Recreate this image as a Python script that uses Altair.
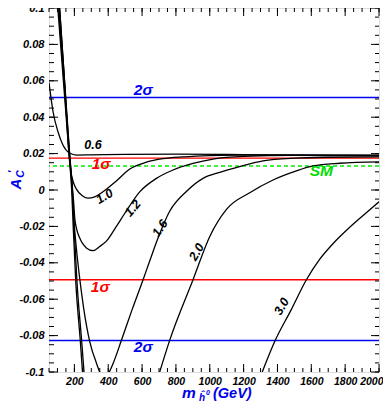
import altair as alt
import pandas as pd

# ---------------- data ----------------
# curve 0.6
m06 = [50, 74, 103, 133, 172, 212, 300, 500, 800, 1100, 1500, 2000]
a06 = [0.059, 0.043, 0.032, 0.0246, 0.0203, 0.0192, 0.0193, 0.0196, 0.0197, 0.0195, 0.0190, 0.0188]
# curve 1.0
m10 = [113, 143, 168, 178, 195, 212, 245, 280, 320, 369, 448, 527, 626, 724, 842, 1000, 1300, 2000]
a10 = [0.1, 0.058, 0.02, 0.011, 0.004, 0.0005, -0.003, -0.0045, -0.0038, -0.001, 0.005, 0.0115,
       0.0153, 0.0172, 0.0182, 0.0189, 0.0193, 0.0192]
# curve 1.2
m12 = [110, 142, 171, 185, 195, 202, 215, 231, 271, 310, 350, 389, 448, 500, 586, 685, 783, 901,
       1019, 1200, 1500, 2000]
a12 = [0.1, 0.058, 0.02, 0.005, -0.006, -0.0153, -0.022, -0.0263, -0.0318, -0.0333, -0.031, -0.0281,
       -0.020, -0.0125, -0.001, 0.0064, 0.011, 0.0146, 0.017, 0.0185, 0.0191, 0.019]
# curve 1.6
m16 = [107, 140, 170, 187, 200, 215, 232, 255, 290, 330, 370, 400, 430, 478, 540, 607, 645, 700,
       763, 862, 960, 1059, 1177, 1315, 1500, 1700, 2000]
a16 = [0.1, 0.058, 0.02, 0.0, -0.02, -0.035, -0.049, -0.065, -0.083, -0.095, -0.103, -0.101, -0.095,
       -0.0826, -0.066, -0.049, -0.039, -0.025, -0.0117, -0.0008, 0.0064, 0.0097, 0.0128, 0.016,
       0.0175, 0.018, 0.0182]
# curve 2.0 (two visible pieces)
m20a = [112, 142, 172, 188, 198, 215, 243, 257]
a20a = [0.1, 0.06, 0.02, 0.0, -0.02, -0.05, -0.083, -0.1]
m20b = [704, 763, 901, 1000, 1100, 1236, 1374, 1512, 1610, 1768, 2000]
a20b = [-0.1, -0.0826, -0.0493, -0.0255, -0.0105, -0.0015, 0.0055, 0.0105, 0.0132, 0.0147, 0.0155]
# curve 3.0 (two visible pieces)
m30a = [102, 135, 168, 184, 193, 208, 235, 248]
a30a = [0.1, 0.06, 0.02, 0.0, -0.02, -0.05, -0.083, -0.1]
m30b = [1310, 1387, 1480, 1571, 1650, 1728, 1827, 1925, 2000]
a30b = [-0.1, -0.0826, -0.066, -0.0493, -0.038, -0.0295, -0.0205, -0.0125, -0.0065]

# horizontal reference lines
ref_vals = [0.0508, 0.0175, -0.0493, -0.0827]
ref_cols = ["#0000ee", "#ff0000", "#ff0000", "#0000ee"]
sm_val = [0.0132]

# labels on curves
clab_text = ["0.6", "1.0", "1.2", "1.6", "2.0", "3.0"]
clab_m = [310, 378, 545, 706, 922, 1425]
clab_a = [0.0246, -0.0035, -0.0100, -0.0210, -0.0340, -0.0640]
clab_ang = [0, 330, 310, 305, 300, 300]

# labels on reference lines
rlab_text = ["2σ", "1σ", "1σ", "2σ", "SM"]
rlab_m = [607, 358, 353, 607, 1659]
rlab_a = [0.0548, 0.0145, -0.0535, -0.0865, 0.0105]
rlab_col = ["#0000ee", "#ff0000", "#ff0000", "#0000ee", "#00dd00"]

# tick values
x_major = list(range(200, 2001, 200))
x_minor = list(range(50, 2001, 50))
y_major = [round(-0.1 + 0.02 * i, 3) for i in range(11)]
y_minor = [round(-0.1 + 0.005 * i, 4) for i in range(41)]

# ---------------- build tables ----------------
rows = []
def add(name, seg, ms, as_):
    for mm, aa in zip(ms, as_):
        rows.append({"m": mm, "a": aa, "curve": name + "_" + seg})

add("0.6", "a", m06, a06)
add("1.0", "a", m10, a10)
add("1.2", "a", m12, a12)
add("1.6", "a", m16, a16)
add("2.0", "a", m20a, a20a)
add("2.0", "b", m20b, a20b)
add("3.0", "a", m30a, a30a)
add("3.0", "b", m30b, a30b)
curves = pd.DataFrame(rows)

refs = pd.DataFrame({"a": ref_vals, "col": ref_cols})
sm = pd.DataFrame({"a": sm_val})
clabs = pd.DataFrame({"m": clab_m, "a": clab_a, "t": clab_text, "ang": clab_ang})
rlabs = pd.DataFrame({"m": rlab_m, "a": rlab_a, "t": rlab_text, "col": rlab_col})

W, H = 330, 364
FONT = "Liberation Sans"

xs = alt.Scale(domain=[50, 2000], nice=False, zero=False)
ys = alt.Scale(domain=[-0.1, 0.1], nice=False, zero=False)
x_axis = alt.Axis(values=x_major, ticks=False, domain=False, grid=False, title=None, format="d",
                  labelFont=FONT, labelFontStyle="italic", labelFontWeight="bold",
                  labelFontSize=10.5, labelColor="black", labelPadding=4, labelFlush=False,
                  labelOverlap=False, labelBound=False,
                  labelAlign=alt.condition("datum.value == 2000", alt.value("right"), alt.value("center")),
                  labelOffset=alt.condition("datum.value == 2000", alt.value(4), alt.value(0)))
y_axis = alt.Axis(values=y_major, ticks=False, domain=False, grid=False, title=None,
                  labelFont=FONT, labelFontStyle="italic", labelFontWeight="bold",
                  labelFontSize=11, labelColor="black", labelPadding=5, labelFlush=False,
                  labelOverlap=False,
                  labelExpr="datum.value == 0 ? '0' : replace(format(datum.value, '.2~f'), '\u2212', '-')")
X = alt.X("m:Q", scale=xs, axis=x_axis)
Y = alt.Y("a:Q", scale=ys, axis=y_axis)

ref_layer = alt.Chart(refs).mark_rule(strokeWidth=1.4).encode(
    y=Y, color=alt.Color("col:N", scale=None))
sm_layer = alt.Chart(sm).mark_rule(strokeWidth=1.4, color="#00ee00", strokeDash=[4, 3]).encode(y=Y)

curve_layer = alt.Chart(curves).mark_line(color="black", strokeWidth=1.3, clip=True,
                                          interpolate="monotone").encode(
    x=X, y=Y, detail="curve:N")

clab_layer = alt.Chart(clabs).mark_text(font=FONT, fontStyle="italic", fontWeight="bold",
                                        fontSize=12.5, color="black").encode(
    x=X, y=Y, text="t:N", angle=alt.Angle("ang:Q", scale=None))

rlab_layer = alt.Chart(rlabs).mark_text(font=FONT, fontStyle="italic", fontWeight="bold",
                                        fontSize=15.5).encode(
    x=X, y=Y, text="t:N", color=alt.Color("col:N", scale=None))

# inward ticks on all four sides
ymaj = pd.DataFrame({"a": y_major})
ymin = pd.DataFrame({"a": y_minor})
xmaj = pd.DataFrame({"m": x_major})
xmin = pd.DataFrame({"m": x_minor})
tk = dict(color="black", strokeWidth=1)
ticks = [
    alt.Chart(ymaj).mark_rule(**tk).encode(y=Y, x=alt.value(0), x2=alt.value(9)),
    alt.Chart(ymin).mark_rule(**tk).encode(y=Y, x=alt.value(0), x2=alt.value(5)),
    alt.Chart(ymaj).mark_rule(**tk).encode(y=Y, x=alt.value(W - 8), x2=alt.value(W)),
    alt.Chart(ymin).mark_rule(**tk).encode(y=Y, x=alt.value(W - 4), x2=alt.value(W)),
    alt.Chart(xmaj).mark_rule(**tk).encode(x=X, y=alt.value(H - 8), y2=alt.value(H)),
    alt.Chart(xmin).mark_rule(**tk).encode(x=X, y=alt.value(H - 4), y2=alt.value(H)),
    alt.Chart(xmaj).mark_rule(**tk).encode(x=X, y=alt.value(0), y2=alt.value(8)),
    alt.Chart(xmin).mark_rule(**tk).encode(x=X, y=alt.value(0), y2=alt.value(4)),
]

# axis titles as text
BLUE = "#0000ee"
def ttext(t, x, y, size, angle=0, align="left", baseline="alphabetic"):
    return alt.Chart(pd.DataFrame({"t": [t]})).mark_text(
        font=FONT, fontStyle="italic", fontWeight="bold", fontSize=size, color=BLUE,
        angle=angle, align=align, baseline=baseline).encode(
        text="t:N", x=alt.value(x), y=alt.value(y))

titles = [
    ttext("m", 133, 390, 15.5),
    ttext("ĥ", 150, 392.5, 10),
    ttext("0", 157, 387, 7),
    ttext("(GeV)", 164, 390, 14.5),
    ttext("A", -33, 176, 15, 270, "center", "middle"),
    ttext("C", -28.5, 166, 10.5, 270, "center", "middle"),
    ttext("'", -36, 164, 11, 270, "center", "middle"),
]

chart = alt.layer(ref_layer, sm_layer, curve_layer, clab_layer, rlab_layer, *ticks, *titles).properties(
    width=W, height=H,
    padding={"left": 41, "top": 0, "right": 4, "bottom": 29},
    autosize=alt.AutoSizeParams(type="none"),
).configure_view(stroke="black", strokeWidth=1.2).configure(background="white")

chart.save("out.html", embed_options={"renderer": "svg", "actions": False})
